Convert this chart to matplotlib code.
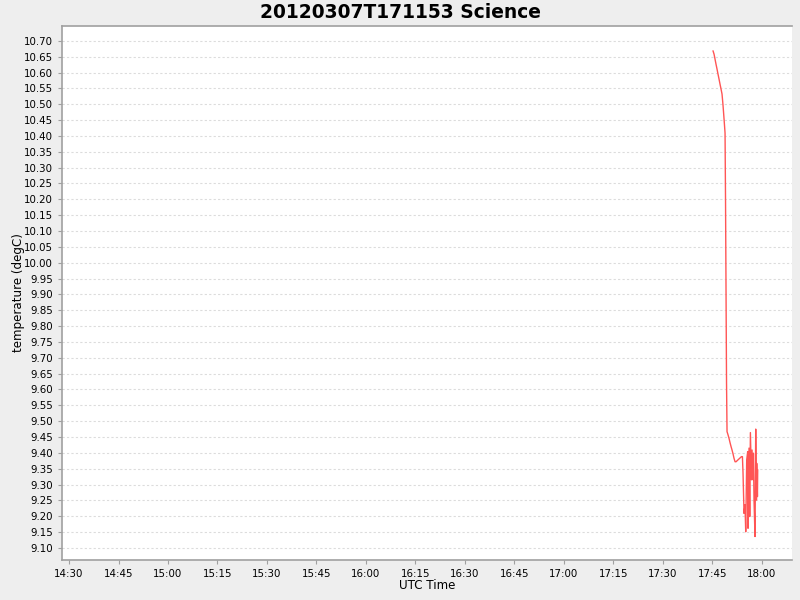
import numpy as np
import pandas as pd
import matplotlib
matplotlib.use("Agg")
import matplotlib.pyplot as plt
import matplotlib.dates as mdates

day = "2012-03-07 "
times = ["17:45:15", "17:45:33", "17:45:51", "17:46:09", "17:46:27", "17:46:45",
         "17:47:04", "17:47:22", "17:47:40", "17:47:58", "17:48:16", "17:48:35",
         "17:48:53", "17:49:02", "17:49:20", "17:49:29", "17:49:47", "17:50:05",
         "17:50:24", "17:50:42", "17:51:00", "17:51:18", "17:51:36", "17:51:55",
         "17:52:13", "17:52:49", "17:53:20", "17:53:51", "17:54:09", "17:54:20",
         "17:54:38", "17:54:56", "17:55:09", "17:55:27", "17:55:45", "17:55:51",
         "17:56:09", "17:56:22", "17:56:34", "17:56:53", "17:57:04", "17:57:22",
         "17:57:29", "17:57:40", "17:57:58", "17:58:11", "17:58:24", "17:58:29",
         "17:58:42", "17:58:47"]
temps = [10.668, 10.658, 10.642, 10.626, 10.611, 10.595,
         10.579, 10.563, 10.548, 10.532, 10.497, 10.453,
         10.409, 10.190, 9.620, 9.467, 9.457, 9.446,
         9.432, 9.420, 9.409, 9.397, 9.383, 9.372,
         9.372, 9.378, 9.383, 9.388, 9.388, 9.336,
         9.209, 9.236, 9.151, 9.378, 9.404, 9.162,
         9.415, 9.199, 9.464, 9.315, 9.409, 9.315,
         9.399, 9.251, 9.136, 9.475, 9.251, 9.367,
         9.262, 9.346]

t = pd.to_datetime([day + s for s in times])

fig = plt.figure(figsize=(8, 6), dpi=100, facecolor="#eeeeee")
ax = fig.add_axes([0.0775, 0.0667, 0.9121, 0.89])
ax.set_facecolor("white")
ax.plot(t, temps, color="#ff5555", lw=1)

ax.set_xlim(pd.Timestamp(day + "14:27:52"), pd.Timestamp(day + "18:09:05"))
ax.set_ylim(9.062, 10.747)
ax.xaxis.set_major_locator(mdates.MinuteLocator(byminute=[0, 15, 30, 45]))
ax.xaxis.set_major_formatter(mdates.DateFormatter("%H:%M"))
ax.set_yticks(np.arange(9.10, 10.701, 0.05))
ax.yaxis.set_major_formatter(matplotlib.ticker.FormatStrFormatter("%.2f"))

ax.grid(axis="y", color="#dcdcdc", ls=(0, (2, 2)), lw=0.8)
for s in ax.spines.values():
    s.set_color("#a0a0a0")
    s.set_linewidth(1.2)
ax.spines["right"].set_visible(False)
ax.tick_params(colors="#a0a0a0", labelcolor="black", labelsize=7.4, length=3, width=0.8)

fig.text(0.5, 1 - 12 / 600, "20120307T171153 Science", fontsize=13.4,
         fontweight="bold", ha="center", va="center")
ax.set_xlabel("UTC Time", fontsize=8.6)
ax.set_ylabel("temperature (degC)", fontsize=8.6)
ax.xaxis.set_label_coords(0.5, -0.0487)
ax.yaxis.set_label_coords(-0.0603, 0.5)
ax.xaxis.label.set_va("center")
ax.yaxis.label.set_va("center")

fig.savefig("out.png", dpi=100, facecolor=fig.get_facecolor())
